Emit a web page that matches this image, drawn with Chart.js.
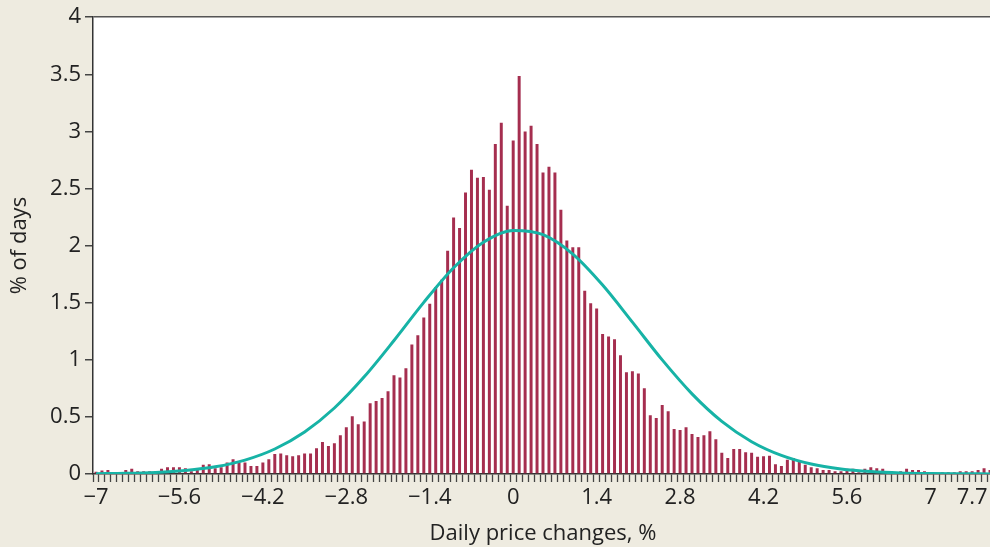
<!DOCTYPE html>
<html>
<head>
<meta charset="utf-8">
<script src="https://cdn.jsdelivr.net/npm/chart.js@4"></script>
<style>
    html, body { margin: 0; padding: 0; background: #eeebe0; overflow: hidden; }
    .chart-box { position: relative; width: 994px; height: 547px; }
</style>
</head>
<body>
<div class="chart-box"><canvas id="chartPriceChanges"></canvas></div>
<script>
/************** daily price changes ************/

// bins : -7 ~ 8, step 0.1
const binStart = -7;
const binCount = 151;

// % of days per bin
const pctDays = [
    0.02, 0.03, 0.035, 0.005, 0.005, 0.035, 0.045, 0.025, 0.025, 0.025,
    0.025, 0.045, 0.06, 0.06, 0.06, 0.05, 0.025, 0.05, 0.08, 0.085,
    0.05, 0.06, 0.10, 0.13, 0.10, 0.10, 0.07, 0.07, 0.10, 0.13,
    0.175, 0.18, 0.165, 0.155, 0.165, 0.18, 0.18, 0.225, 0.28, 0.245,
    0.27, 0.34, 0.41, 0.505, 0.435, 0.46, 0.62, 0.64, 0.665, 0.725,
    0.865, 0.845, 0.925, 1.135, 1.215, 1.37, 1.49, 1.635, 1.70, 1.955,
    2.245, 2.155, 2.465, 2.665, 2.595, 2.60, 2.49, 2.89, 3.075, 2.35,
    2.92, 3.485, 3.0, 3.05, 2.89, 2.64, 2.69, 2.64, 2.315, 2.045,
    1.985, 1.985, 1.605, 1.495, 1.45, 1.225, 1.205, 1.18, 1.04, 0.89,
    0.90, 0.88, 0.75, 0.515, 0.49, 0.605, 0.55, 0.395, 0.385, 0.41,
    0.35, 0.325, 0.34, 0.375, 0.305, 0.185, 0.14, 0.22, 0.22, 0.19,
    0.185, 0.15, 0.155, 0.16, 0.085, 0.07, 0.125, 0.14, 0.12, 0.08,
    0.06, 0.05, 0.035, 0.035, 0.025, 0.025, 0.045, 0.045, 0.015, 0.045,
    0.06, 0.05, 0.045, 0.02, 0.01, 0.025, 0.045, 0.035, 0.035, 0.025,
    0.005, 0.005, 0.015, 0.015, 0.015, 0.025, 0.025, 0.025, 0.035, 0.05,
    0.035
];

// normal curve (every 0.5)
const curveX = [-7, -6.5, -6, -5.5, -5, -4.5, -4, -3.5, -3, -2.5, -2, -1.5, -1, -0.5, 0,
    0.5, 1, 1.5, 2, 2.5, 3, 3.5, 4, 4.5, 5, 5.5, 6, 6.5, 7, 7.5, 8];
const curveY = [0.003, 0.006, 0.014, 0.031, 0.063, 0.122, 0.219, 0.368, 0.578, 0.851, 1.169, 1.503, 1.806, 2.03, 2.133,
    2.096, 1.926, 1.655, 1.33, 0.999, 0.702, 0.461, 0.283, 0.163, 0.087, 0.044, 0.021, 0.009, 0.004, 0.002, 0.001];

// x tick labels shown
const xTickLabels = ['-7', '-5.6', '-4.2', '-2.8', '-1.4', '0', '1.4', '2.8', '4.2', '5.6', '7', '7.7'];

// category labels
function getBinLabels(start, count) {
    const labels = [];
    for (let i = 0; i < count; i++) {
        labels.push(String(Math.round((start + i * 0.1) * 10) / 10));
    }
    return labels;
}

const binLabels = getBinLabels(binStart, binCount);
const fontFamily = '"Open Sans", sans-serif';
const textColor = '#222';

// white plot area
const plotBackground = {
    id: 'plotBackground',
    beforeDraw(chart) {
        const { ctx, chartArea } = chart;
        ctx.save();
        ctx.fillStyle = '#ffffff';
        ctx.fillRect(chartArea.left, chartArea.top, chartArea.right - chartArea.left, chartArea.bottom - chartArea.top);
        ctx.restore();
    }
};

const data = {
    labels: binLabels,
    datasets: [
        {
            type: 'line',
            label: 'Normal',
            data: curveX.map((x, i) => ({ x: String(x), y: curveY[i] })),
            borderColor: '#17b3a6',
            borderWidth: 3,
            pointRadius: 0,
            cubicInterpolationMode: 'monotone',
            order: 0
        },
        {
            type: 'bar',
            label: '% of days',
            data: pctDays,
            backgroundColor: '#a52e4f',
            barPercentage: 0.5,
            categoryPercentage: 1,
            order: 1
        }
    ]
};

const options = {
    responsive: true,
    maintainAspectRatio: false,
    animation: false,
    layout: { padding: { top: 15, right: 1, left: 0, bottom: 0 } },
    plugins: {
        legend: { display: false },
        tooltip: { enabled: false }
    },
    scales: {
        x: {
            type: 'category',
            offset: true,
            grid: {
                offset: true,
                drawOnChartArea: false,
                drawTicks: true,
                tickLength: 8,
                tickColor: '#444',
                tickWidth: 1.3
            },
            border: { display: true, color: '#333', width: 1.5 },
            ticks: {
                autoSkip: false,
                maxRotation: 0,
                minRotation: 0,
                padding: 3,
                color: textColor,
                font: { family: fontFamily, size: 22 },
                callback: function(value) {
                    const label = this.getLabelForValue(value);
                    return xTickLabels.includes(label) ? label.replace('-', '\u2212') : '';
                }
            },
            title: {
                display: true,
                text: 'Daily price changes, %',
                color: textColor,
                font: { family: fontFamily, size: 22 },
                padding: { top: 0, bottom: 0 }
            },
            afterFit: (scale) => { scale.height = 73; }
        },
        y: {
            min: 0,
            max: 4,
            ticks: {
                stepSize: 0.5,
                padding: 4,
                color: textColor,
                font: { family: fontFamily, size: 22 },
                callback: (value) => String(value)
            },
            grid: {
                drawOnChartArea: true,
                tickLength: 8,
                color: (ctx) => ctx.tick && ctx.tick.value === 4 ? '#555' : 'rgba(0,0,0,0)',
                tickColor: '#444',
                lineWidth: 1.5
            },
            border: { display: true, color: '#333', width: 1.5 },
            title: {
                display: true,
                text: '% of days',
                color: textColor,
                font: { family: fontFamily, size: 22 },
                padding: { top: 7, bottom: 0 }
            },
            afterFit: (scale) => { scale.width = 93; }
        }
    }
};

new Chart(document.getElementById('chartPriceChanges'), {
    data: data,
    options: options,
    plugins: [plotBackground]
});
</script>
</body>
</html>
